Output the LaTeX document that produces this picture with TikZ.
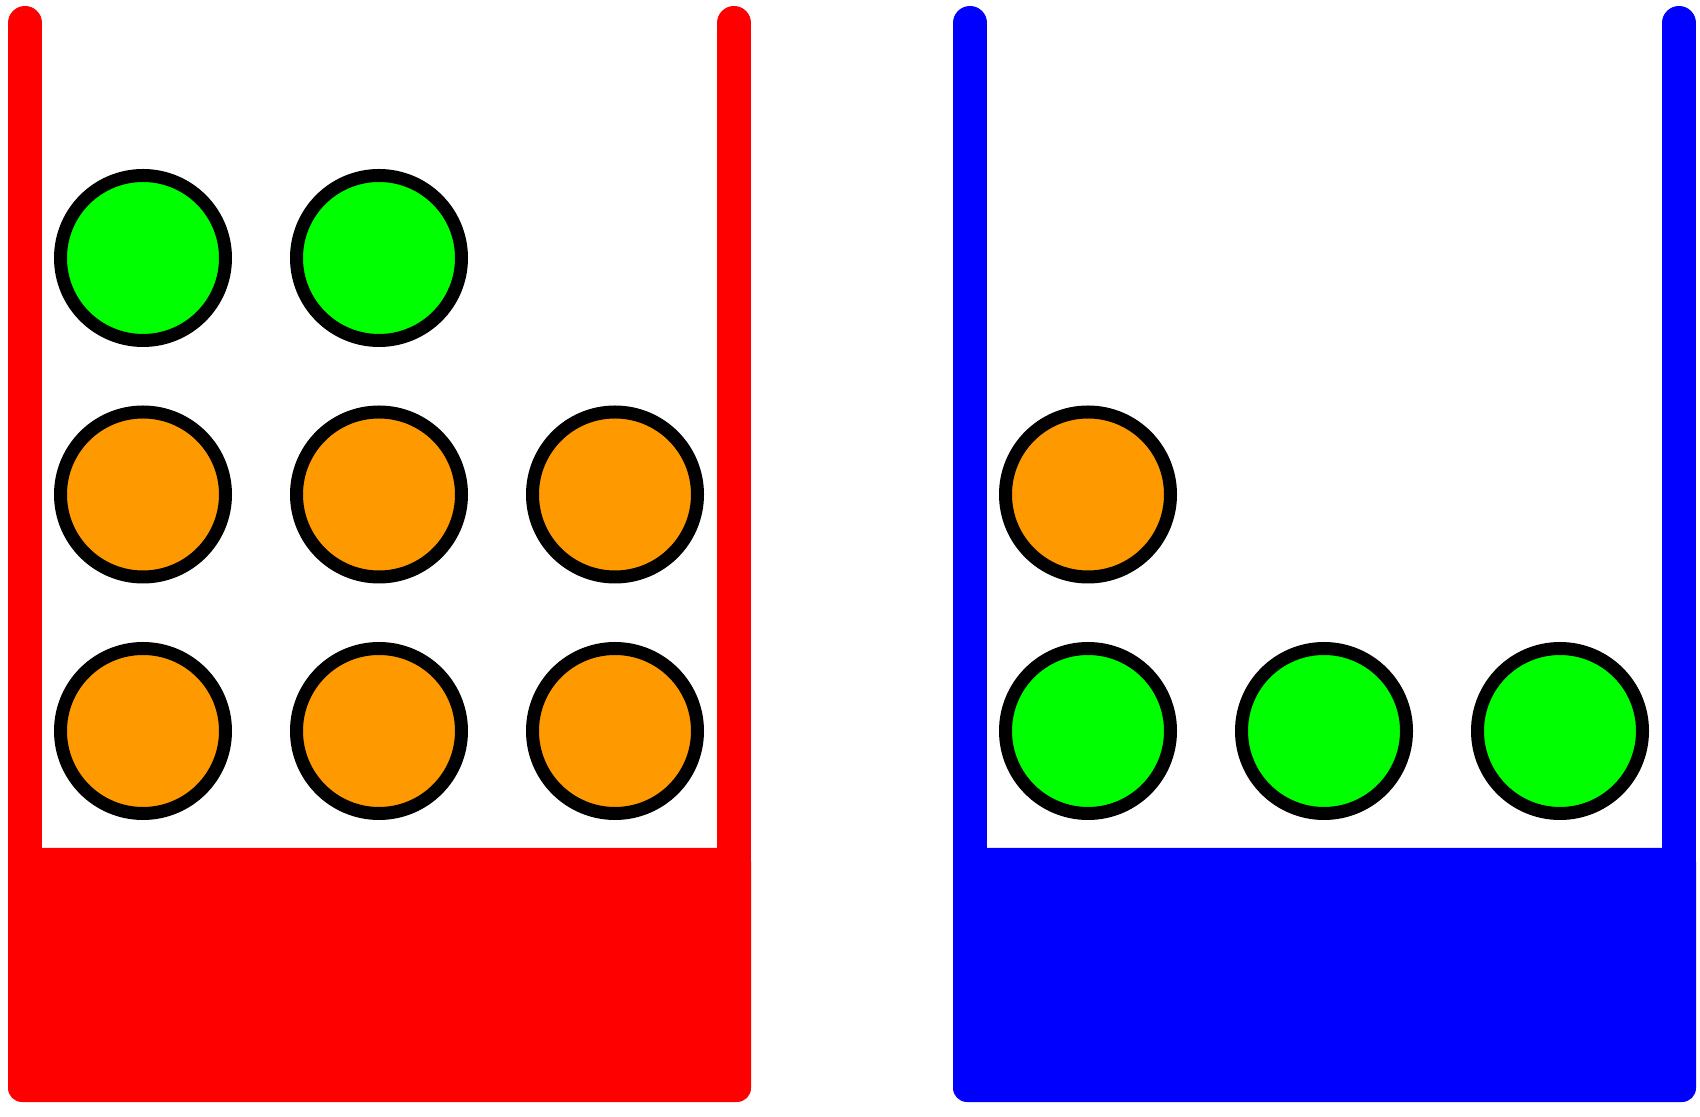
\documentclass[tikz,border=0pt]{standalone}
\usepackage[table]{xcolor}
\usepackage{tikz}
\usetikzlibrary{backgrounds,calc}
\definecolor{cupred}{RGB}{255,0,0}
\definecolor{cupblue}{RGB}{0,0,255}
\definecolor{ballgreen}{RGB}{0,255,0}
\definecolor{ballorange}{RGB}{255,153,0}
\tikzset{
  wall/.style={line width=0.34cm, line cap=round},
  liquid/.style={rounded corners=0.14cm},
  ball/.style={circle, draw=black, line width=0.13cm, minimum size=1.65cm, inner sep=0pt}
}

\begin{document}
\begin{tikzpicture}
\useasboundingbox (0,0) rectangle (17,11.17);
% red cup
\draw[wall, cupred] (0.25,10.94) -- (0.25,2.5);
\draw[wall, cupred] (7.34,10.94) -- (7.34,2.5);
\fill[liquid, cupred] (0.08,0.15) rectangle (7.51,2.69);
% blue cup
\draw[wall, cupblue] (9.70,10.94) -- (9.70,2.5);
\draw[wall, cupblue] (16.79,10.94) -- (16.79,2.5);
\fill[liquid, cupblue] (9.53,0.15) rectangle (16.96,2.69);
% balls in the red cup
\node[ball, fill=ballgreen] (ra1) at (1.43,8.59) {};
\node[ball, fill=ballgreen] (ra2) at (3.79,8.59) {};
\node[ball, fill=ballorange] (rb1) at (1.43,6.225) {};
\node[ball, fill=ballorange] (rb2) at (3.79,6.225) {};
\node[ball, fill=ballorange] (rb3) at (6.15,6.225) {};
\node[ball, fill=ballorange] (rc1) at (1.43,3.86) {};
\node[ball, fill=ballorange] (rc2) at (3.79,3.86) {};
\node[ball, fill=ballorange] (rc3) at (6.15,3.86) {};
% balls in the blue cup
\node[ball, fill=ballorange] (bb1) at (10.88,6.225) {};
\node[ball, fill=ballgreen] (bc1) at (10.88,3.86) {};
\node[ball, fill=ballgreen] (bc2) at (13.24,3.86) {};
\node[ball, fill=ballgreen] (bc3) at (15.60,3.86) {};
\end{tikzpicture}
\end{document}
